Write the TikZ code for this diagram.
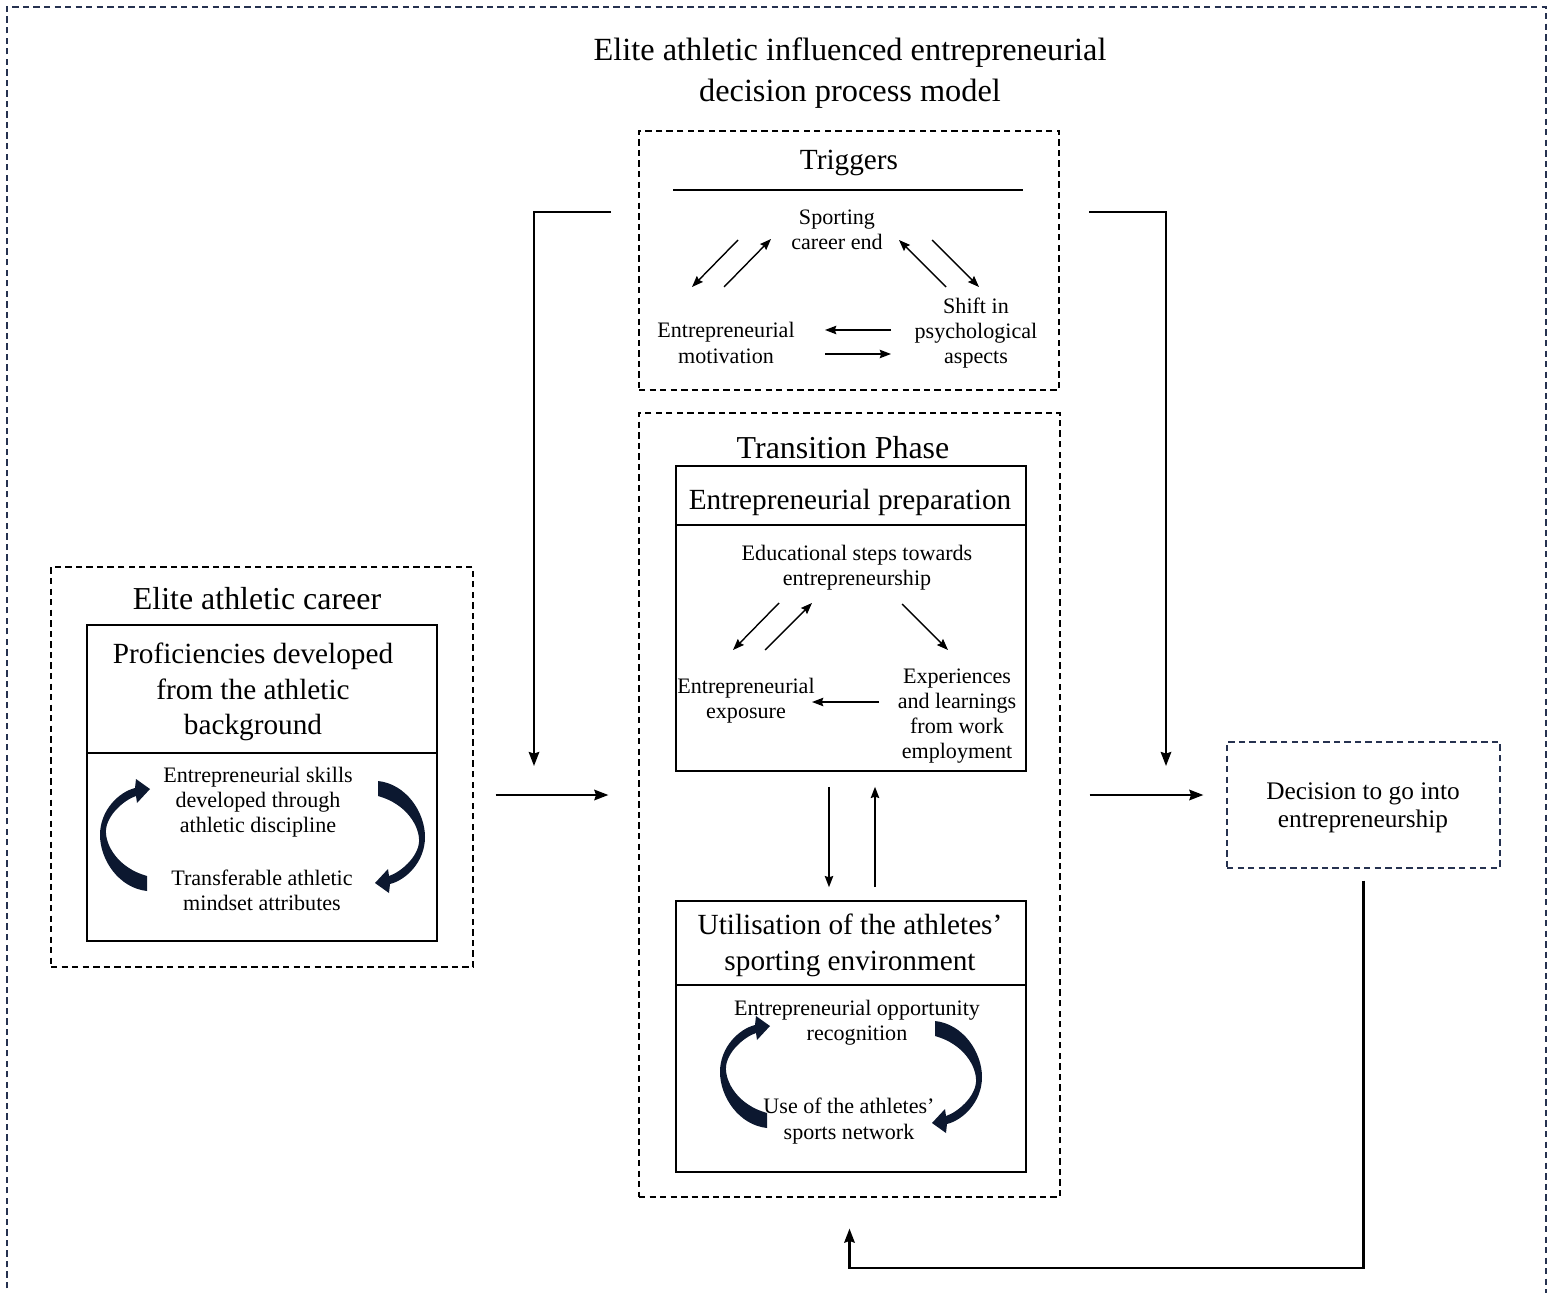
\documentclass[tikz,border=0pt]{standalone}
\usepackage{fontspec}
\setmainfont{Liberation Serif}
\usetikzlibrary{fit,arrows.meta}
\definecolor{navy}{RGB}{38,50,80}
\definecolor{darknavy}{RGB}{12,24,48}

\begin{document}
\begin{tikzpicture}[x=0.025cm,y=-0.025cm,
        dbox/.style={draw,dash pattern=on 4.5pt off 3pt,line width=0.9pt,inner sep=0pt},
        sbox/.style={draw,line width=1.1pt,inner sep=0pt},
        txt/.style={align=center,inner sep=1pt,font=\fontsize{15.7}{17.9}\selectfont},
        hdr/.style={align=center,inner sep=1pt,font=\fontsize{20.8}{25.4}\selectfont},
        big/.style={align=center,inner sep=1pt,font=\fontsize{22.7}{27}\selectfont},
        arr/.style={-{Stealth[length=8pt,width=6pt,inset=1pt]},line width=1pt},
        conn/.style={-{Stealth[length=10pt,width=7.5pt,inset=1.2pt]},line width=1.5pt},
        loop arrow/.pic={\fill[darknavy] (23,36) .. controls (-6,28) and (-19,5) .. (-18,-10)
                .. controls (-17,-25) and (0,-40) .. (12,-44) -- (13,-37) -- (26,-51) -- (12,-61)
                -- (11,-52) .. controls (-5,-48) and (-24,-30) .. (-24,-5)
                .. controls (-24,20) and (-5,48) .. (23,51) -- cycle;}]
                \useasboundingbox (0,0) rectangle (1554,1293);
                \draw[dbox,navy] (7,1320) -- (7,7) -- (1546,7) -- (1546,1320);
                \node[align=center,font=\fontsize{23}{29.2}\selectfont] (title) at (850,73)
                        {Elite athletic influenced entrepreneurial\\decision process model};
                \node[dbox,fit={(639,131) (1059,390)}] (trig) {};
                \node[dbox,fit={(639,413) (1060,1197)}] (trans) {};
                \node[dbox,fit={(51,567) (473,967)}] (career) {};
                \node[dbox,draw=navy,fit={(1227,742) (1500,868)}] (dec) {};
                \node[align=center,font=\fontsize{18}{20}\selectfont] (dect) at (1363,808)
                        {Decision to go into\\entrepreneurship};
                \node[sbox,fit={(676,466) (1026,771)}] (prep) {};
                \node[sbox,fit={(676,901) (1026,1172)}] (util) {};
                \node[sbox,fit={(87,625) (437,941)}] (prof) {};
                \draw[line width=1.1pt] (676,525) -- (1026,525);
                \draw[line width=1.1pt] (676,985) -- (1026,985);
                \draw[line width=1.1pt] (87,753) -- (437,753);
                \node[hdr] (trigt) at (849,163) {Triggers};
                \draw[line width=1pt] (673,190) -- (1023,190);
                \node[txt] (sce) at (837,230) {Sporting\\career end};
                \node[txt] (emot) at (726,343) {Entrepreneurial\\motivation};
                \node[txt] (psy) at (976,333) {Shift in\\psychological\\aspects};
                \node[big] (transt) at (843,448) {Transition Phase};
                \node[hdr] (preph) at (850,502) {Entrepreneurial preparation};
                \node[txt] (edu) at (857,568) {Educational steps towards\\entrepreneurship};
                \node[txt] (expo) at (746,701) {Entrepreneurial\\exposure};
                \node[txt] (work) at (957,716) {Experiences\\and learnings\\from work\\employment};
                \node[hdr] (utilh) at (850,945) {Utilisation of the athletes’\\sporting environment};
                \node[txt] (opp) at (857,1023) {Entrepreneurial opportunity\\recognition};
                \node[txt] (netw) at (849,1121) {Use of the athletes’\\sports network};
                \node[big] (careert) at (257,599) {Elite athletic career};
                \node[hdr] (profh) at (253,692) {Proficiencies developed\\from the athletic\\background};
                \node[txt] (skills) at (258,802) {Entrepreneurial skills\\developed through\\athletic discipline};
                \node[txt] (mind) at (262,890) {Transferable athletic\\mindset attributes};
                \draw[arr] ([shift={(-99,10)}]sce.center) -- ([shift={(-34,-56)}]emot.center);
                \draw[arr] ([shift={(-2,-56)}]emot.center) -- ([shift={(-66,9)}]sce.center);
                \draw[arr] ([shift={(-30,-46)}]psy.center) -- ([shift={(62,10)}]sce.center);
                \draw[arr] ([shift={(95,10)}]sce.center) -- ([shift={(3,-46)}]psy.center);
                \draw[arr] ([shift={(-85,-3)}]psy.center) -- ([shift={(99,-13)}]emot.center);
                \draw[arr] ([shift={(99,11)}]emot.center) -- ([shift={(-85,21)}]psy.center);
                \draw[arr] ([shift={(-78,35)}]edu.center) -- ([shift={(-13,-51)}]expo.center);
                \draw[arr] ([shift={(19,-51)}]expo.center) -- ([shift={(-45,35)}]edu.center);
                \draw[arr] ([shift={(45,36)}]edu.center) -- ([shift={(-9,-66)}]work.center);
                \draw[arr] ([shift={(-78,-14)}]work.center) -- ([shift={(66,1)}]expo.center);
                \draw[arr,line width=1.2pt] ([shift={(-22,15)}]prep.south) -- ([shift={(-22,-13)}]util.north);
                \draw[arr,line width=1.2pt] ([shift={(24,-13)}]util.north) -- ([shift={(24,15)}]prep.south);
                \pic at (124,840) {loop arrow};
                \pic[rotate=180] at (401,832) {loop arrow};
                \pic at (744,1077) {loop arrow};
                \pic[rotate=180] at (958,1072) {loop arrow};
                \coordinate (lin) at (611,212);
                \coordinate (lout) at (534,766);
                \coordinate (rin) at (1089,212);
                \coordinate (rout) at (1166,766);
                \draw[conn] (lin) -| (lout);
                \draw[conn] (rin) -| (rout);
                \draw[conn] ([shift={(22,28)}]career.east) -- ([shift={(-30,-10)}]trans.west);
                \draw[conn] ([shift={(29,-10)}]trans.east) -- ([shift={(-23,-10)}]dec.west);
                \draw[conn] ([shift={(0,12)}]dec.south) -- ++(0,387) -| ([shift={(0,31)}]trans.south);
\end{tikzpicture}
\end{document}
